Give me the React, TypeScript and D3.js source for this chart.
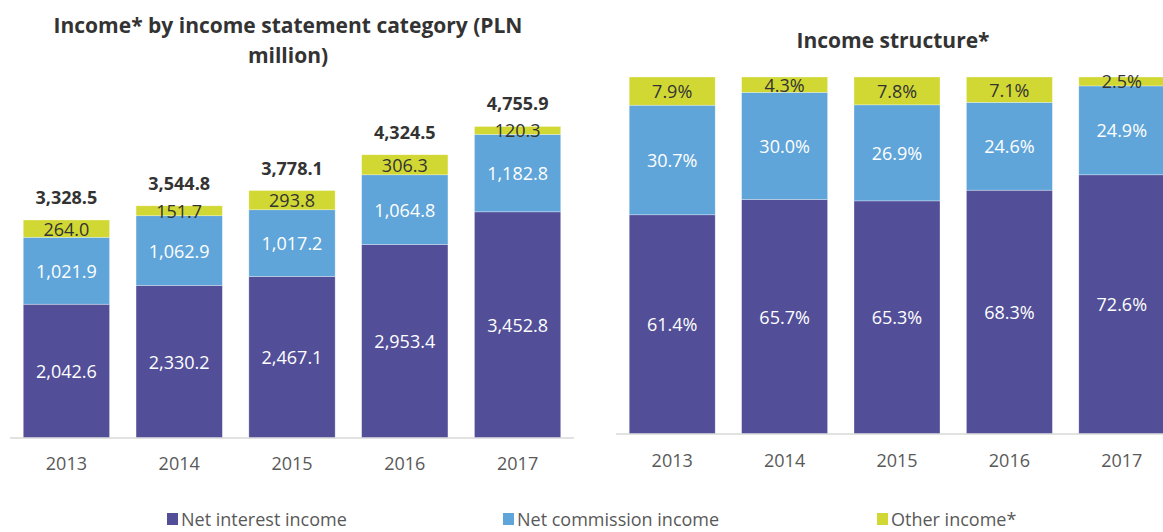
import React, { useEffect, useRef } from 'react'
import * as d3 from 'd3'

const years = ['2013', '2014', '2015', '2016', '2017']

// PLN million
const netInterest = [2042.6, 2330.2, 2467.1, 2953.4, 3452.8]
const netCommission = [1021.9, 1062.9, 1017.2, 1064.8, 1182.8]
const otherIncome = [264.0, 151.7, 293.8, 306.3, 120.3]
const totals = [3328.5, 3544.8, 3778.1, 4324.5, 4755.9]

// shares, %
const shareInterest = [61.4, 65.7, 65.3, 68.3, 72.6]
const shareCommission = [30.7, 30.0, 26.9, 24.6, 24.9]
const shareOther = [7.9, 4.3, 7.8, 7.1, 2.5]

const seriesNames = ['Net interest income', 'Net commission income', 'Other income*']
const colors = ['#524f98', '#5fa5d9', '#d1d834']
const labelColors = ['#ffffff', '#ffffff', '#333333']

const W = 1163
const H = 532
const FONT = '"Open Sans", "DejaVu Sans", sans-serif'

const fmt = d3.format(',.1f')

const App: React.FC = () => {
  const svgRef = useRef<SVGSVGElement>(null)

  useEffect(() => {
    if (!svgRef.current) return
    const svg = d3.select(svgRef.current)
    svg.selectAll('*').remove()

    // build rows for the stack
    const leftRows = years.map((y, i) => ({
      year: y, a: netInterest[i], b: netCommission[i], c: otherIncome[i]
    }))
    const rightRows = years.map((y, i) => ({
      year: y, a: shareInterest[i], b: shareCommission[i], c: shareOther[i]
    }))
    const stack = d3.stack<any>().keys(['a', 'b', 'c'])

    const drawPanel = (
      rows: any[],
      xRange: [number, number],
      yRange: [number, number],
      yMax: number,
      valueFmt: (v: number) => string,
      baseY: number,
      yearY: number
    ) => {
      const x = d3.scaleBand<string>()
        .domain(years)
        .range(xRange)
        .paddingInner(0.235)
        .paddingOuter(0.1175)
      const y = d3.scaleLinear().domain([0, yMax]).range(yRange)
      const layers = stack(rows)
      const g = svg.append('g')

      layers.forEach((layer, li) => {
        g.append('g')
          .selectAll('rect')
          .data(layer)
          .join('rect')
          .attr('x', (d: any) => x(d.data.year)!)
          .attr('width', x.bandwidth())
          .attr('y', (d: any) => y(d[1]))
          .attr('height', (d: any) => y(d[0]) - y(d[1]))
          .attr('fill', colors[li])
          .attr('stroke', '#ffffff')
          .attr('stroke-opacity', 0.5)
          .attr('stroke-width', 0.6)

        g.append('g')
          .selectAll('text')
          .data(layer)
          .join('text')
          .attr('x', (d: any) => x(d.data.year)! + x.bandwidth() / 2)
          .attr('y', (d: any) => (y(d[0]) + y(d[1])) / 2)
          .attr('text-anchor', 'middle')
          .attr('dominant-baseline', 'central')
          .style('font-family', FONT)
          .style('font-size', '18px')
          .style('fill', labelColors[li])
          .text((d: any) => valueFmt(d[1] - d[0]))
      })

      // baseline
      g.append('line')
        .attr('x1', xRange[0])
        .attr('x2', xRange[1])
        .attr('y1', baseY)
        .attr('y2', baseY)
        .attr('stroke', '#d9d9d9')
        .attr('stroke-width', 1.5)

      // category labels
      g.append('g')
        .selectAll('text')
        .data(years)
        .join('text')
        .attr('x', d => x(d)! + x.bandwidth() / 2)
        .attr('y', yearY)
        .attr('text-anchor', 'middle')
        .attr('dominant-baseline', 'central')
        .style('font-family', FONT)
        .style('font-size', '18px')
        .style('fill', '#595959')
        .text(d => d)

      return { x, y, g }
    }

    // Left panel: PLN million
    const left = drawPanel(leftRows, [10, 574], [438, 110.5], 5000, v => fmt(v), 438, 463)
    left.g.append('g')
      .selectAll('text')
      .data(years)
      .join('text')
      .attr('x', d => left.x(d)! + left.x.bandwidth() / 2)
      .attr('y', (d, i) => left.y(totals[i]) - 23)
      .attr('text-anchor', 'middle')
      .attr('dominant-baseline', 'central')
      .style('font-family', FONT)
      .style('font-size', '18px')
      .style('font-weight', 'bold')
      .style('fill', '#333333')
      .text((d, i) => fmt(totals[i]))

    // Right panel: structure, %
    drawPanel(rightRows, [616, 1178], [434, 77], 100, v => v.toFixed(1) + '%', 434, 460)

    // Titles
    const titles = [
      { x: 288, y: 25, t: 'Income* by income statement category (PLN' },
      { x: 288, y: 55, t: 'million)' },
      { x: 893, y: 40, t: 'Income structure*' },
    ]
    svg.append('g')
      .selectAll('text')
      .data(titles)
      .join('text')
      .attr('x', d => d.x)
      .attr('y', d => d.y)
      .attr('text-anchor', 'middle')
      .attr('dominant-baseline', 'central')
      .style('font-family', FONT)
      .style('font-size', '21px')
      .style('font-weight', 'bold')
      .style('fill', '#333333')
      .text(d => d.t)

    // Legend
    const legendX = [167, 503, 877]
    const legend = svg.append('g')
      .selectAll('g')
      .data(seriesNames)
      .join('g')
      .attr('transform', (d, i) => `translate(${legendX[i]},519)`)
    legend.append('rect')
      .attr('x', 0)
      .attr('y', -6)
      .attr('width', 11)
      .attr('height', 12)
      .attr('fill', (d, i) => colors[i])
    legend.append('text')
      .attr('x', 14)
      .attr('y', 0)
      .attr('dominant-baseline', 'central')
      .style('font-family', FONT)
      .style('font-size', '18px')
      .style('fill', '#595959')
      .text(d => d)
  }, [])

  return (
    <svg
      ref={svgRef}
      width={W}
      height={H}
      style={{ position: 'absolute', left: 0, top: 0, background: '#ffffff' }}
    />
  )
}

export default App
